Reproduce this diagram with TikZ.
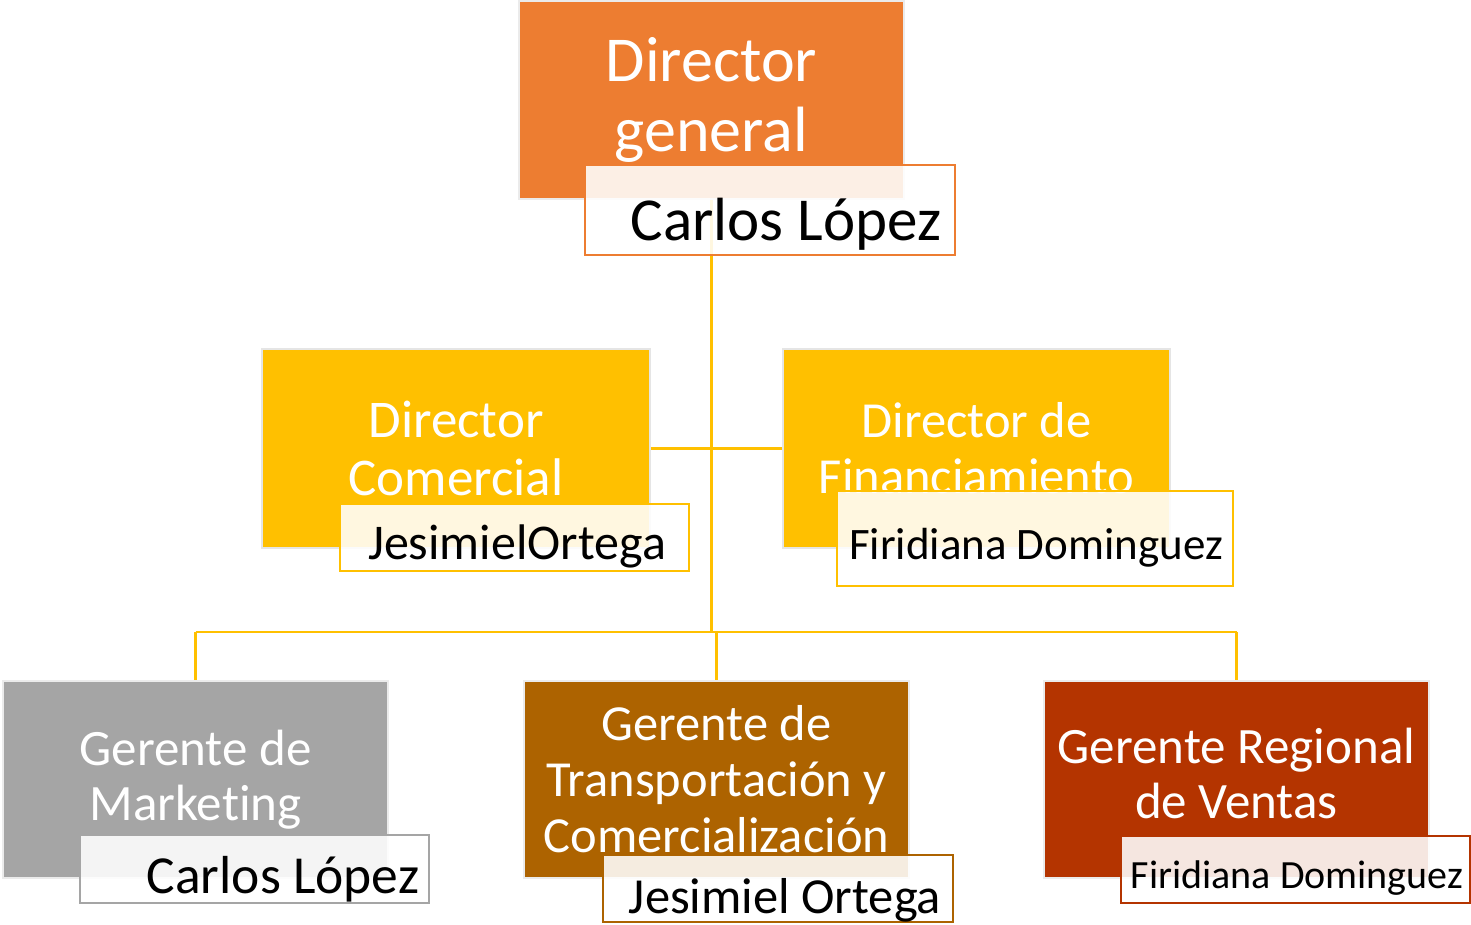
\documentclass[tikz,border=0pt]{standalone}
\usepackage{fontspec}
\setmainfont{Carlito}[Ligatures=NoCommon]
\usetikzlibrary{positioning,backgrounds}
\definecolor{orangeA}{HTML}{ED7D31}
\definecolor{gold}{HTML}{FFC000}
\definecolor{grayA}{HTML}{A5A5A5}
\definecolor{brownA}{HTML}{AD6300}
\definecolor{rustA}{HTML}{B43400}
\tikzset{
  RoleBox/.style={draw=black!8, line width=1.5pt, inner sep=0pt,
    text=white, align=center, minimum width=385pt, minimum height=197pt},
  NameBox/.style={draw=#1, line width=2pt, fill=white, fill opacity=0.88,
    inner sep=0pt},
  NameText/.style={anchor=base, text=black, inner sep=0pt},
  Link/.style={draw=gold, line width=2.5pt}
}
\newcommand{\fsz}[2]{\fontsize{#1}{#2}\selectfont}
\begin{document}
\begin{tikzpicture}[x=1pt, y=-1pt]
  \useasboundingbox (0,0) rectangle (1471,924);

  % top level
  \node[RoleBox, fill=orangeA, minimum height=198pt, font=\fsz{64}{70}]
    (gen) at (711.5,100) {Director\\general};
  \node[NameBox=orangeA, minimum width=370pt, minimum height=90pt]
    (genN) at (770,210) {};
  \node[NameText, font=\fsz{61}{70}] (genT) at (786,240) {Carlos López};

  % directors
  \node[RoleBox, fill=gold, draw=black!10, minimum width=388pt, minimum height=199pt,
    font=\fsz{53}{58}] (com) at (456,448.5) {Director\\Comercial};
  \node[NameBox=gold, minimum width=349pt, minimum height=67pt]
    (comN) at (514.5,537.5) {};
  \node[NameText, font=\fsz{50}{56}] (comT) at (517,559) {JesimielOrtega};

  \node[RoleBox, fill=gold, draw=black!10, minimum width=387pt, minimum height=199pt,
    font=\fsz{50.5}{56}] (fin) at (976.5,448.5) {Director de\\Financiamiento};
  \node[NameBox=gold, minimum width=396pt, minimum height=95pt]
    (finN) at (1035,538.5) {};
  \node[NameText, font=\fsz{45}{52}] (finT) at (1036,559) {Firidiana Dominguez};

  % managers
  \node[RoleBox, fill=grayA, font=\fsz{51}{55}]
    (mkt) at (195.5,779.5) {Gerente de\\Marketing};
  \node[NameBox=grayA, minimum width=349pt, minimum height=68pt]
    (mktN) at (254.5,869) {};
  \node[NameText, font=\fsz{53.5}{60}] (mktT) at (283,893) {Carlos López};

  \node[RoleBox, fill=brownA, font=\fsz{50.5}{56}]
    (trn) at (716.5,779.5) {Gerente de\\Transportación y\\Comercialización};
  \node[NameBox=brownA, minimum width=350pt, minimum height=67pt]
    (trnN) at (778,888.5) {};
  \node[NameText, font=\fsz{50.5}{56}] (trnT) at (785,913) {Jesimiel Ortega};

  \node[RoleBox, fill=rustA, font=\fsz{51}{55}, text depth=12pt]
    (reg) at (1236.5,779.5) {Gerente Regional\\de Ventas};
  \node[NameBox=rustA, minimum width=349pt, minimum height=67pt]
    (regN) at (1295.5,869.5) {};
  \node[NameText, font=\fsz{40}{46}] (regT) at (1297,888) {Firidiana Dominguez};

  % connectors
  \coordinate (bus) at (711,632);
  \begin{scope}[on background layer]
    \draw[Link] (gen) -- (gen |- bus);
    \draw[Link] (com.east) -- (fin.west);
    \draw[Link] (mkt.north |- bus) -- (reg.north |- bus);
    \draw[Link] (mkt.north |- bus) -- (mkt.north);
    \draw[Link] (trn.north |- bus) -- (trn.north);
    \draw[Link] (reg.north |- bus) -- (reg.north);
  \end{scope}
\end{tikzpicture}
\end{document}
